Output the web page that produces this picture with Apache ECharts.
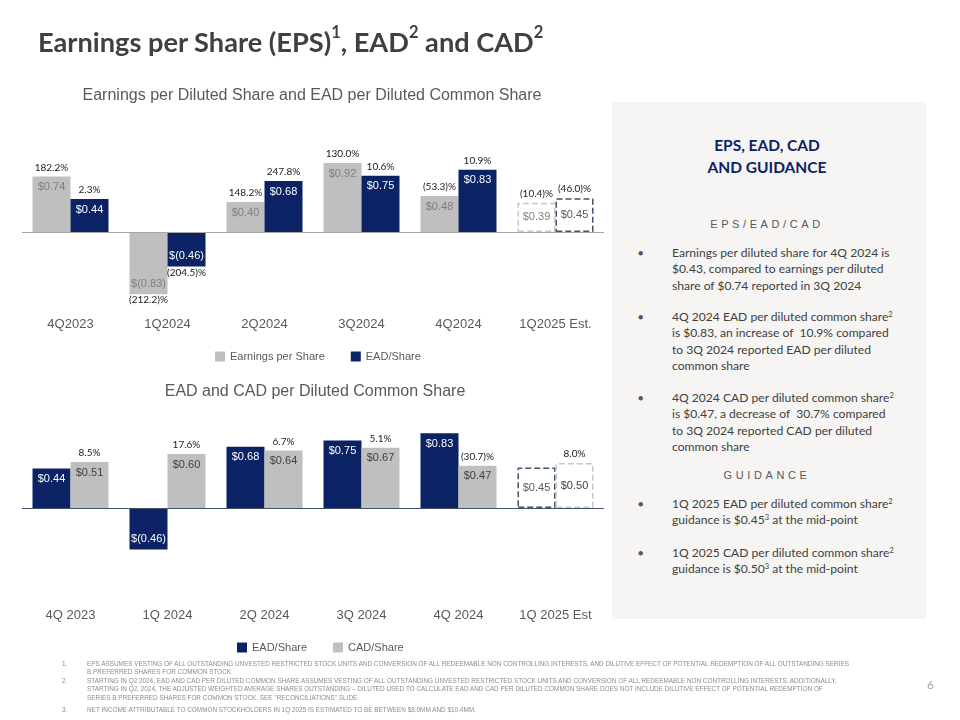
<!DOCTYPE html>
<html>
<head>
<meta charset="utf-8">
<script src="https://cdn.jsdelivr.net/npm/echarts@6/dist/echarts.min.js"></script>
<style>
  html, body { margin:0; padding:0; background:#ffffff; }
  #wrap { position:relative; width:960px; height:720px; overflow:hidden; }
  #chart { position:absolute; left:0; top:0; width:960px; height:720px; }
  .abs { position:absolute; white-space:nowrap; }
  #title { left:38px; top:25px; font-family:Lato, sans-serif; font-weight:700; font-size:27.2px; color:#404040; }
  #title sup { font-size:16.5px; vertical-align:top; position:relative; top:-3px; }
  #panel { left:612px; top:102px; width:314px; height:517px; background:#f6f5f3; }
  .ptitle { left:612px; width:310px; text-align:center; font-family:Lato, sans-serif; font-weight:700; font-size:15.5px; color:#0b2265; }
  .sect { left:612px; width:310px; text-align:center; font-family:'Liberation Sans', Arial, sans-serif; font-size:11px; color:#595959; letter-spacing:3.6px; }
  .bul { left:638px; font-family:Lato, sans-serif; font-size:12.1px; color:#404040; line-height:16.3px; }
  .bul .dot { position:absolute; left:0; top:0; font-size:9px; color:#595959; }
  .bul .txt { position:absolute; left:34px; top:0; }
  .bul sup { font-size:7.5px; vertical-align:top; position:relative; top:-2px; }
  .fn { font-family:'Liberation Sans', Arial, sans-serif; font-size:6.4px; color:#8c8c8c; }
  #pnum { left:927px; top:677px; font-family:Lato, sans-serif; font-size:12px; color:#a6a6a6; }
</style>
</head>
<body>
<div id="wrap">
  <div id="chart"></div>
  <div id="title" class="abs">Earnings per Share (EPS)<sup>1</sup>, EAD<sup>2</sup> and CAD<sup>2</sup></div>
  <div id="panel" class="abs"></div>
  <div class="abs ptitle" style="top:136px;">EPS, EAD, CAD</div>
  <div class="abs ptitle" style="top:158px;">AND GUIDANCE</div>
  <div class="abs sect" style="top:218px;">EPS/EAD/CAD</div>
  <div class="abs bul" style="top:245px;"><span class="dot">●</span><div class="txt">Earnings per diluted share for 4Q 2024 is<br>$0.43, compared to earnings per diluted<br>share of $0.74 reported in 3Q 2024</div></div>
  <div class="abs bul" style="top:309px;"><span class="dot">●</span><div class="txt">4Q 2024 EAD per diluted common share<sup>2</sup><br>is $0.83, an increase of &nbsp;10.9% compared<br>to 3Q 2024 reported EAD per diluted<br>common share</div></div>
  <div class="abs bul" style="top:390px;"><span class="dot">●</span><div class="txt">4Q 2024 CAD per diluted common share<sup>2</sup><br>is $0.47, a decrease of &nbsp;30.7% compared<br>to 3Q 2024 reported CAD per diluted<br>common share</div></div>
  <div class="abs sect" style="top:469px;">GUIDANCE</div>
  <div class="abs bul" style="top:496px;"><span class="dot">●</span><div class="txt">1Q 2025 EAD per diluted common share<sup>2</sup><br>guidance is $0.45<sup>3</sup> at the mid-point</div></div>
  <div class="abs bul" style="top:545px;"><span class="dot">●</span><div class="txt">1Q 2025 CAD per diluted common share<sup>2</sup><br>guidance is $0.50<sup>3</sup> at the mid-point</div></div>

  <div class="abs fn" style="left:62px;top:660px;">1.</div>
  <div class="abs fn" style="left:87px;top:660px;">EPS ASSUMES VESTING OF ALL OUTSTANDING UNVESTED RESTRICTED STOCK UNITS AND CONVERSION OF ALL REDEEMABLE NON CONTROLLING INTERESTS, AND DILUTIVE EFFECT OF POTENTIAL REDEMPTION OF ALL OUTSTANDING SERIES</div>
  <div class="abs fn" style="left:87px;top:668px;">B PREFERRED SHARES FOR COMMON STOCK.</div>
  <div class="abs fn" style="left:62px;top:677px;">2.</div>
  <div class="abs fn" style="left:87px;top:677px;">STARTING IN Q2 2024, EAD AND CAD PER DILUTED COMMON SHARE ASSUMES VESTING OF ALL OUTSTANDING UNVESTED RESTRICTED STOCK UNITS AND CONVERSION OF ALL REDEEMABLE NON CONTROLLING INTERESTS. ADDITIONALLY,</div>
  <div class="abs fn" style="left:87px;top:685px;">STARTING IN Q2, 2024, THE ADJUSTED WEIGHTED AVERAGE SHARES OUTSTANDING – DILUTED USED TO CALCULATE EAD AND CAD PER DILUTED COMMON SHARE DOES NOT INCLUDE DILUTIVE EFFECT OF POTENTIAL REDEMPTION OF</div>
  <div class="abs fn" style="left:87px;top:694px;">SERIES B PREFERRED SHARES FOR COMMON STOCK. SEE "RECONCILIATIONS" SLIDE</div>
  <div class="abs fn" style="left:62px;top:706px;">3.</div>
  <div class="abs fn" style="left:87px;top:706px;">NET INCOME ATTRIBUTABLE TO COMMON STOCKHOLDERS IN 1Q 2025 IS ESTIMATED TO BE BETWEEN $8.0MM AND $10.4MM.</div>
  <div id="pnum" class="abs">6</div>
</div>
<script>
// ---------- Data ----------
const categoriesTop = ['4Q2023', '1Q2024', '2Q2024', '3Q2024', '4Q2024', '1Q2025 Est.'];
const epsValues = [0.74, -0.83, 0.40, 0.92, 0.48, 0.39];
const eadValuesTop = [0.44, -0.46, 0.68, 0.75, 0.83, 0.45];
const epsPct = ['182.2%', '(212.2)%', '148.2%', '130.0%', '(53.3)%', '(10.4)%'];
const eadPctTop = ['2.3%', '(204.5)%', '247.8%', '10.6%', '10.9%', '(46.0)%'];

const categoriesBottom = ['4Q 2023', '1Q 2024', '2Q 2024', '3Q 2024', '4Q 2024', '1Q 2025 Est'];
const eadValues = [0.44, -0.46, 0.68, 0.75, 0.83, 0.45];
const cadValues = [0.51, 0.60, 0.64, 0.67, 0.47, 0.50];
const cadPct = ['8.5%', '17.6%', '6.7%', '5.1%', '(30.7)%', '8.0%'];

const isEstimate = [false, false, false, false, false, true];

// ---------- Styles ----------
const NAVY = '#0b2265';
const GRAY = '#bfbfbf';
const BAR_W = 38;
const valFont = { fontFamily: "'Liberation Sans', Arial, sans-serif", fontSize: 11 };
const pctFont = { fontFamily: 'Lato, sans-serif', fontSize: 10, color: '#1a1a1a' };

function money(v) {
  return v < 0 ? '$(' + Math.abs(v).toFixed(2) + ')' : '$' + v.toFixed(2);
}

function barData(values, fill, labelColor, estBorder, estLabelColor) {
  return values.map((v, i) => {
    const item = {
      value: v,
      label: {
        show: true,
        position: isEstimate[i] ? 'inside' : (v < 0 ? 'insideBottom' : 'insideTop'),
        distance: 5,
        formatter: money(v),
        color: isEstimate[i] ? estLabelColor : labelColor,
        ...valFont
      }
    };
    if (isEstimate[i]) {
      item.itemStyle = { color: '#ffffff', borderColor: estBorder, borderType: 'dashed', borderWidth: 1.5 };
    }
    return item;
  });
}

function pctData(values, labels) {
  return values.map((v, i) => ({
    value: v,
    label: {
      show: true,
      position: v < 0 ? 'bottom' : 'top',
      distance: v < 0 ? 1 : 4,
      formatter: labels[i],
      ...pctFont
    }
  }));
}

function overlay(name, xi, yi, values, labels, hideLabels) {
  return {
    name: name, type: 'bar', xAxisIndex: xi, yAxisIndex: yi,
    barWidth: BAR_W, barGap: '0%', silent: true,
    itemStyle: { color: 'rgba(0,0,0,0)' },
    data: hideLabels ? values.map(v => ({ value: v, label: { show: false } })) : pctData(values, labels)
  };
}

const axisLabelStyle = { color: '#595959', fontSize: 13, fontFamily: "'Liberation Sans', Arial, sans-serif", margin: 11 };

const option = {
  animation: false,
  backgroundColor: 'transparent',
  title: [
    { text: 'Earnings per Diluted Share and EAD per Diluted Common Share', left: 307, textAlign: 'center', top: 83,
      textStyle: { color: '#595959', fontSize: 16, fontWeight: 'normal', fontFamily: "'Liberation Sans', Arial, sans-serif" } },
    { text: 'EAD and CAD per Diluted Common Share', left: 310, textAlign: 'center', top: 379,
      textStyle: { color: '#595959', fontSize: 16, fontWeight: 'normal', fontFamily: "'Liberation Sans', Arial, sans-serif" } }
  ],
  legend: [
    { data: ['Earnings per Share', 'EAD/Share'], left: 210, top: 346, icon: 'rect', itemWidth: 10, itemHeight: 10, itemGap: 26,
      textStyle: { color: '#595959', fontSize: 11, fontFamily: "'Liberation Sans', Arial, sans-serif" }, selectedMode: false },
    { data: ['EAD/Share ', 'CAD/Share'], left: 232, top: 637, icon: 'rect', itemWidth: 10, itemHeight: 10, itemGap: 26,
      textStyle: { color: '#595959', fontSize: 11, fontFamily: "'Liberation Sans', Arial, sans-serif" }, selectedMode: false,
      formatter: n => n.trim() }
  ],
  grid: [
    { left: 22, width: 582, top: 142, height: 165 },
    { left: 22, width: 582, top: 427, height: 171 }
  ],
  xAxis: [
    { gridIndex: 0, type: 'category', data: categoriesTop, axisLine: { show: false, onZero: false }, axisTick: { show: false }, axisLabel: axisLabelStyle },
    { gridIndex: 0, type: 'category', data: categoriesTop, show: false },
    { gridIndex: 1, type: 'category', data: categoriesBottom, axisLine: { show: false, onZero: false }, axisTick: { show: false }, axisLabel: axisLabelStyle },
    { gridIndex: 1, type: 'category', data: categoriesBottom, show: false }
  ],
  yAxis: [
    { gridIndex: 0, type: 'value', min: -1, max: 1.2, show: false },
    { gridIndex: 0, type: 'value', min: -1, max: 1.2, show: false },
    { gridIndex: 1, type: 'value', min: -1, max: 0.9, show: false },
    { gridIndex: 1, type: 'value', min: -1, max: 0.9, show: false }
  ],
  series: [
    { name: 'Earnings per Share', type: 'bar', xAxisIndex: 0, yAxisIndex: 0, barWidth: BAR_W, barGap: '0%',
      itemStyle: { color: GRAY }, data: barData(epsValues, GRAY, '#7f7f7f', '#c8c8c8', '#7f7f7f'),
      markLine: { silent: true, symbol: 'none', label: { show: false }, lineStyle: { color: '#a6a6a6', type: 'solid', width: 1.2 }, data: [{ yAxis: 0 }] } },
    { name: 'EAD/Share', type: 'bar', xAxisIndex: 0, yAxisIndex: 0, barWidth: BAR_W, barGap: '0%',
      itemStyle: { color: NAVY }, data: barData(eadValuesTop, NAVY, '#ffffff', '#44546a', '#595959') },
    overlay('epsPct', 1, 1, epsValues, epsPct),
    overlay('eadPctTop', 1, 1, eadValuesTop, eadPctTop),

    { name: 'EAD/Share ', type: 'bar', xAxisIndex: 2, yAxisIndex: 2, barWidth: BAR_W, barGap: '0%',
      itemStyle: { color: NAVY }, data: barData(eadValues, NAVY, '#ffffff', '#44546a', '#595959'),
      markLine: { silent: true, symbol: 'none', label: { show: false }, lineStyle: { color: '#44546a', type: 'solid', width: 1.2 }, data: [{ yAxis: 0 }] } },
    { name: 'CAD/Share', type: 'bar', xAxisIndex: 2, yAxisIndex: 2, barWidth: BAR_W, barGap: '0%',
      itemStyle: { color: GRAY }, data: barData(cadValues, GRAY, '#404040', '#c8c8c8', '#404040') },
    overlay('eadPctBottom', 3, 3, eadValues, null, true),
    overlay('cadPct', 3, 3, cadValues, cadPct)
  ]
};

const chart = echarts.init(document.getElementById('chart'), null, { renderer: 'canvas' });
chart.setOption(option);
</script>
</body>
</html>
